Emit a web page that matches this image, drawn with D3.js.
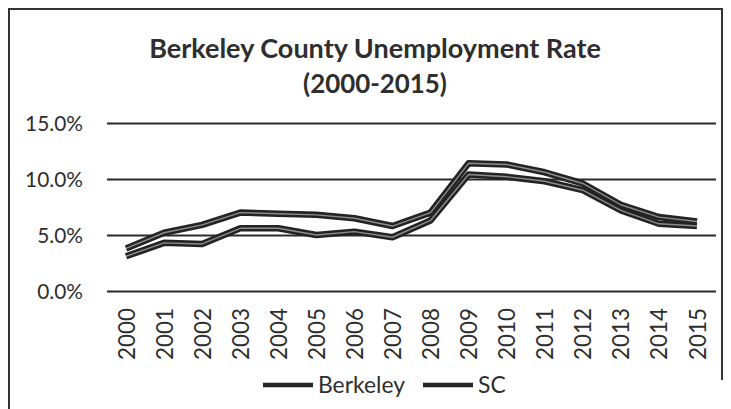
<!DOCTYPE html>
<html><head><meta charset="utf-8">
<script src="https://cdn.jsdelivr.net/npm/d3@7"></script>
<style>body{margin:0;background:#fff}svg{display:block}text{font-family:Lato,"Open Sans",sans-serif;fill:#2e2e2e}</style>
</head><body>
<svg id="c" width="731" height="409"></svg>
<script>
const years = ["2000","2001","2002","2003","2004","2005","2006","2007","2008","2009","2010","2011","2012","2013","2014","2015"];
const berkeley = [3.1,4.3,4.2,5.6,5.6,5.0,5.3,4.8,6.3,10.4,10.2,9.8,9.0,7.2,6.0,5.8];
const sc = [3.8,5.2,5.9,7.0,6.9,6.8,6.5,5.8,7.0,11.4,11.3,10.6,9.6,7.7,6.6,6.2];
const yTicks = [0,5,10,15];
const seriesNames = ["Berkeley","SC"];

const svg = d3.select("#c");
// frame
svg.append("path").attr("d","M9,409 V9 H722 V380").attr("fill","none").attr("stroke","#333").attr("stroke-width",2);

const x = d3.scalePoint().domain(years).range([107,716]).padding(0.5);
const y = d3.scaleLinear().domain([0,15]).range([291,123]);

function fitSize(sel, w){ const l = sel.node().getComputedTextLength(); const fs = parseFloat(sel.attr("font-size")); return fs*w/l; }

// title
const t1 = svg.append("text").attr("x",375).attr("y",58).attr("text-anchor","middle").attr("font-size",26).attr("font-weight",700).text("Berkeley County Unemployment Rate");
t1.attr("font-size", fitSize(t1, 452));
const t2 = svg.append("text").attr("x",375).attr("y",93).attr("text-anchor","middle").attr("font-size",26).attr("font-weight",700).text("(2000-2015)");
t2.attr("font-size", fitSize(t2, 144));

// gridlines
const yAxis = d3.axisLeft(y).tickValues(yTicks).tickSize(-(716-107)).tickPadding(24).tickFormat(d=>d.toFixed(1)+"%");
const gy = svg.append("g").attr("transform","translate(107,0)").call(yAxis);
gy.select(".domain").remove();
gy.selectAll("line").attr("stroke","#2a2a2a").attr("stroke-width",2);
const yt = gy.selectAll("text").attr("font-size",19).attr("fill","#2e2e2e").attr("dy","0.36em");
const yfs = fitSize(gy.selectAll("text").filter(d=>d===15), 58);
yt.attr("font-size", yfs);

// x axis labels
const xAxis = d3.axisBottom(x).tickSize(0).tickPadding(0);
const gx = svg.append("g").attr("transform","translate(0,291)").call(xAxis);
gx.select(".domain").remove();
const xt = gx.selectAll("text").attr("font-size",19).attr("fill","#2e2e2e")
  .attr("transform","rotate(-90)").attr("text-anchor","end").attr("x",-17).attr("y",0).attr("dy","0.36em");
const xfs = fitSize(gx.selectAll("text").filter(d=>d==="2000"), 52);
xt.attr("font-size", xfs);

// lines
const line = d3.line().x((d,i)=>x(years[i])).y(d=>y(d));
[berkeley, sc].forEach(s=>{
  svg.append("path").datum(s).attr("d",line).attr("fill","none").attr("stroke","#232323").attr("stroke-width",6.5).attr("stroke-linejoin","round");
  svg.append("path").datum(s).attr("d",line).attr("fill","none").attr("stroke","#8c8c8c").attr("stroke-width",1.4).attr("stroke-linejoin","round");
});

// legend
const legX = [263, 423];
let lfs = 19;
seriesNames.forEach((n,i)=>{
  svg.append("line").attr("x1",legX[i]).attr("x2",legX[i]+50).attr("y1",385).attr("y2",385).attr("stroke","#262626").attr("stroke-width",4.5);
  const tx = svg.append("text").attr("x",legX[i]+55).attr("y",385).attr("dy","0.36em").attr("font-size",lfs).text(n);
  if(i===0){ lfs = fitSize(tx, 87); tx.attr("font-size", lfs); } else tx.attr("font-size", lfs);
});
</script>
</body></html>
